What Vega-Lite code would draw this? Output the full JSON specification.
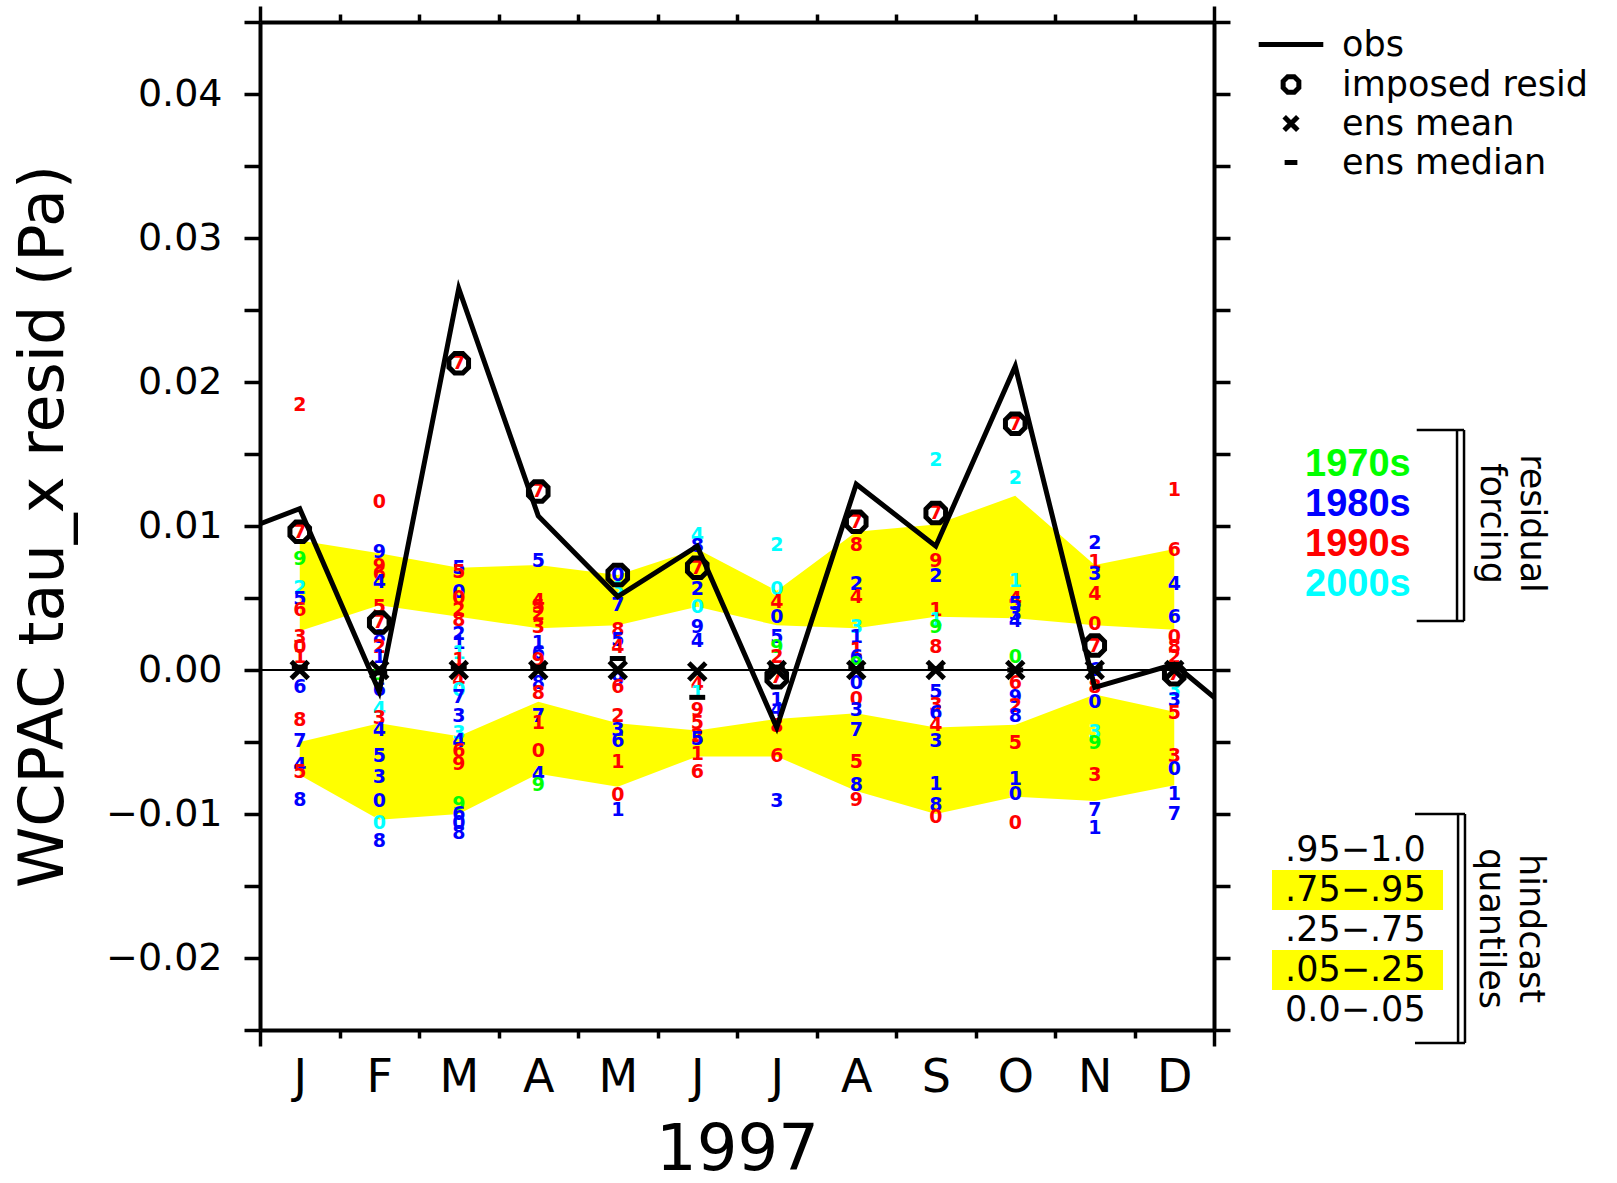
{
"$schema":"https://vega.github.io/schema/vega-lite/v6.json",
"width":954,"height":1008,
"autosize":{"type":"none"},
"padding":{"left":260,"top":22,"right":403,"bottom":153},
"background":"white",
"config":{"view":{"stroke":null},"axis":{"domainColor":"black","tickColor":"black","labelColor":"black","titleColor":"black","grid":false}},
"datasets":{
"bands":[
{"month":1,"band":".75−.95","lo":0.0027,"hi":0.0090},{"month":2,"band":".75−.95","lo":0.0045,"hi":0.0081},{"month":3,"band":".75−.95","lo":0.0037,"hi":0.0071},{"month":4,"band":".75−.95","lo":0.0029,"hi":0.0073},{"month":5,"band":".75−.95","lo":0.0031,"hi":0.0066},{"month":6,"band":".75−.95","lo":0.0044,"hi":0.0084},{"month":7,"band":".75−.95","lo":0.0031,"hi":0.0055},{"month":8,"band":".75−.95","lo":0.0029,"hi":0.0096},{"month":9,"band":".75−.95","lo":0.0037,"hi":0.0101},{"month":10,"band":".75−.95","lo":0.0036,"hi":0.0121},{"month":11,"band":".75−.95","lo":0.0031,"hi":0.0073},{"month":12,"band":".75−.95","lo":0.0028,"hi":0.0084},
{"month":1,"band":".05−.25","lo":-0.0073,"hi":-0.0050},{"month":2,"band":".05−.25","lo":-0.0104,"hi":-0.0037},{"month":3,"band":".05−.25","lo":-0.0100,"hi":-0.0046},{"month":4,"band":".05−.25","lo":-0.0072,"hi":-0.0022},{"month":5,"band":".05−.25","lo":-0.0081,"hi":-0.0037},{"month":6,"band":".05−.25","lo":-0.0060,"hi":-0.0042},{"month":7,"band":".05−.25","lo":-0.0060,"hi":-0.0034},{"month":8,"band":".05−.25","lo":-0.0084,"hi":-0.0030},{"month":9,"band":".05−.25","lo":-0.0100,"hi":-0.0040},{"month":10,"band":".05−.25","lo":-0.0088,"hi":-0.0038},{"month":11,"band":".05−.25","lo":-0.0091,"hi":-0.0017},{"month":12,"band":".05−.25","lo":-0.0080,"hi":-0.0029}],
"obs":[
{"month":0,"value":0.0091},{"month":1,"value":0.0112},{"month":2,"value":-0.0015},{"month":3,"value":0.0265},{"month":4,"value":0.0107},{"month":5,"value":0.0051},{"month":6,"value":0.0086},{"month":7,"value":-0.0040},{"month":8,"value":0.0129},{"month":9,"value":0.0086},{"month":10,"value":0.0211},{"month":11,"value":-0.0012},{"month":12,"value":0.0004},{"month":13,"value":-0.0042}],
"markers":[
{"month":1,"series":"imposed resid","value":0.0096},{"month":2,"series":"imposed resid","value":0.0033},{"month":3,"series":"imposed resid","value":0.0213},{"month":4,"series":"imposed resid","value":0.0124},{"month":5,"series":"imposed resid","value":0.0066},{"month":6,"series":"imposed resid","value":0.0071},{"month":7,"series":"imposed resid","value":-0.0005},{"month":8,"series":"imposed resid","value":0.0103},{"month":9,"series":"imposed resid","value":0.0109},{"month":10,"series":"imposed resid","value":0.0171},{"month":11,"series":"imposed resid","value":0.0017},{"month":12,"series":"imposed resid","value":-0.0003},
{"month":1,"series":"ens mean","value":0.0},{"month":2,"series":"ens mean","value":0.0},{"month":3,"series":"ens mean","value":0.0},{"month":4,"series":"ens mean","value":0.0},{"month":5,"series":"ens mean","value":0.0},{"month":6,"series":"ens mean","value":-0.0001},{"month":7,"series":"ens mean","value":0.0},{"month":8,"series":"ens mean","value":0.0},{"month":9,"series":"ens mean","value":0.0},{"month":10,"series":"ens mean","value":0.0},{"month":11,"series":"ens mean","value":0.0},{"month":12,"series":"ens mean","value":0.0},
{"month":1,"series":"ens median","value":0.0002},{"month":2,"series":"ens median","value":-0.0002},{"month":3,"series":"ens median","value":0.0001},{"month":4,"series":"ens median","value":0.0002},{"month":5,"series":"ens median","value":0.0008},{"month":6,"series":"ens median","value":-0.0019},{"month":7,"series":"ens median","value":0.0002},{"month":8,"series":"ens median","value":0.0001},{"month":9,"series":"ens median","value":0.0001},{"month":10,"series":"ens median","value":0.0},{"month":11,"series":"ens median","value":0.0001},{"month":12,"series":"ens median","value":0.0002}],
"digits":[
{"month":1,"digit":"2","decade":"1990s","value":0.0184},{"month":1,"digit":"7","decade":"1990s","value":0.0096},{"month":1,"digit":"9","decade":"1970s","value":0.0077},{"month":1,"digit":"2","decade":"2000s","value":0.0057},{"month":1,"digit":"5","decade":"1980s","value":0.0049},{"month":1,"digit":"6","decade":"1990s","value":0.0042},{"month":1,"digit":"3","decade":"1990s","value":0.0023},{"month":1,"digit":"0","decade":"1990s","value":0.0016},{"month":1,"digit":"1","decade":"1990s","value":0.0009},{"month":1,"digit":"6","decade":"1980s","value":-0.0012},{"month":1,"digit":"8","decade":"1990s","value":-0.0035},{"month":1,"digit":"7","decade":"1980s","value":-0.0049},{"month":1,"digit":"4","decade":"1980s","value":-0.0066},{"month":1,"digit":"5","decade":"1990s","value":-0.0071},{"month":1,"digit":"8","decade":"1980s","value":-0.0090},
{"month":2,"digit":"0","decade":"1990s","value":0.0117},{"month":2,"digit":"9","decade":"1980s","value":0.0082},{"month":2,"digit":"9","decade":"1990s","value":0.0072},{"month":2,"digit":"6","decade":"1990s","value":0.0067},{"month":2,"digit":"4","decade":"1980s","value":0.0061},{"month":2,"digit":"5","decade":"1990s","value":0.0044},{"month":2,"digit":"7","decade":"1990s","value":0.0033},{"month":2,"digit":"8","decade":"1980s","value":0.0023},{"month":2,"digit":"2","decade":"1990s","value":0.0016},{"month":2,"digit":"1","decade":"1980s","value":0.0009},{"month":2,"digit":"9","decade":"1970s","value":-0.0003},{"month":2,"digit":"6","decade":"1980s","value":-0.0014},{"month":2,"digit":"4","decade":"2000s","value":-0.0027},{"month":2,"digit":"3","decade":"1990s","value":-0.0033},{"month":2,"digit":"4","decade":"1980s","value":-0.0042},{"month":2,"digit":"5","decade":"1980s","value":-0.0060},{"month":2,"digit":"3","decade":"1980s","value":-0.0074},{"month":2,"digit":"0","decade":"1980s","value":-0.0091},{"month":2,"digit":"0","decade":"2000s","value":-0.0106},{"month":2,"digit":"8","decade":"1980s","value":-0.0119},
{"month":3,"digit":"7","decade":"1990s","value":0.0213},{"month":3,"digit":"5","decade":"1980s","value":0.0071},{"month":3,"digit":"5","decade":"1990s","value":0.0068},{"month":3,"digit":"0","decade":"1980s","value":0.0054},{"month":3,"digit":"0","decade":"1990s","value":0.0050},{"month":3,"digit":"2","decade":"1990s","value":0.0042},{"month":3,"digit":"8","decade":"1990s","value":0.0035},{"month":3,"digit":"2","decade":"1980s","value":0.0025},{"month":3,"digit":"1","decade":"1980s","value":0.0019},{"month":3,"digit":"1","decade":"2000s","value":0.0012},{"month":3,"digit":"1","decade":"1990s","value":0.0007},{"month":3,"digit":"4","decade":"1990s","value":-0.0007},{"month":3,"digit":"0","decade":"2000s","value":-0.0014},{"month":3,"digit":"7","decade":"1980s","value":-0.0019},{"month":3,"digit":"3","decade":"1980s","value":-0.0032},{"month":3,"digit":"3","decade":"2000s","value":-0.0044},{"month":3,"digit":"4","decade":"1980s","value":-0.0049},{"month":3,"digit":"6","decade":"1990s","value":-0.0056},{"month":3,"digit":"9","decade":"1990s","value":-0.0065},{"month":3,"digit":"9","decade":"1970s","value":-0.0093},{"month":3,"digit":"6","decade":"1980s","value":-0.0100},{"month":3,"digit":"0","decade":"1980s","value":-0.0106},{"month":3,"digit":"8","decade":"1980s","value":-0.0113},
{"month":4,"digit":"7","decade":"1990s","value":0.0124},{"month":4,"digit":"5","decade":"1980s","value":0.0076},{"month":4,"digit":"4","decade":"1990s","value":0.0048},{"month":4,"digit":"5","decade":"1990s","value":0.0044},{"month":4,"digit":"2","decade":"1990s","value":0.0039},{"month":4,"digit":"3","decade":"1990s","value":0.0030},{"month":4,"digit":"1","decade":"1980s","value":0.0019},{"month":4,"digit":"6","decade":"1980s","value":0.0012},{"month":4,"digit":"9","decade":"1990s","value":0.0007},{"month":4,"digit":"8","decade":"1980s","value":-0.0009},{"month":4,"digit":"8","decade":"1990s","value":-0.0016},{"month":4,"digit":"7","decade":"1980s","value":-0.0032},{"month":4,"digit":"1","decade":"1990s","value":-0.0037},{"month":4,"digit":"0","decade":"1990s","value":-0.0056},{"month":4,"digit":"4","decade":"1980s","value":-0.0072},{"month":4,"digit":"9","decade":"1970s","value":-0.0080},
{"month":5,"digit":"0","decade":"1980s","value":0.0066},{"month":5,"digit":"3","decade":"2000s","value":0.0056},{"month":5,"digit":"7","decade":"1980s","value":0.0045},{"month":5,"digit":"8","decade":"1990s","value":0.0028},{"month":5,"digit":"5","decade":"1980s","value":0.0021},{"month":5,"digit":"4","decade":"1990s","value":0.0016},{"month":5,"digit":"9","decade":"1980s","value":-0.0007},{"month":5,"digit":"6","decade":"1990s","value":-0.0012},{"month":5,"digit":"2","decade":"1990s","value":-0.0032},{"month":5,"digit":"3","decade":"1980s","value":-0.0042},{"month":5,"digit":"6","decade":"1980s","value":-0.0049},{"month":5,"digit":"1","decade":"1990s","value":-0.0064},{"month":5,"digit":"0","decade":"1990s","value":-0.0087},{"month":5,"digit":"1","decade":"1980s","value":-0.0097},
{"month":6,"digit":"4","decade":"2000s","value":0.0094},{"month":6,"digit":"8","decade":"1980s","value":0.0086},{"month":6,"digit":"7","decade":"1990s","value":0.0071},{"month":6,"digit":"2","decade":"1980s","value":0.0056},{"month":6,"digit":"0","decade":"2000s","value":0.0044},{"month":6,"digit":"9","decade":"1980s","value":0.0030},{"month":6,"digit":"4","decade":"1980s","value":0.0020},{"month":6,"digit":"4","decade":"1990s","value":-0.0010},{"month":6,"digit":"1","decade":"2000s","value":-0.0016},{"month":6,"digit":"9","decade":"1990s","value":-0.0028},{"month":6,"digit":"5","decade":"1990s","value":-0.0037},{"month":6,"digit":"2","decade":"1990s","value":-0.0046},{"month":6,"digit":"5","decade":"1980s","value":-0.0048},{"month":6,"digit":"1","decade":"1990s","value":-0.0058},{"month":6,"digit":"6","decade":"1990s","value":-0.0071},
{"month":7,"digit":"2","decade":"2000s","value":0.0087},{"month":7,"digit":"0","decade":"2000s","value":0.0056},{"month":7,"digit":"4","decade":"1990s","value":0.0047},{"month":7,"digit":"0","decade":"1980s","value":0.0037},{"month":7,"digit":"5","decade":"1980s","value":0.0023},{"month":7,"digit":"9","decade":"1970s","value":0.0016},{"month":7,"digit":"2","decade":"1990s","value":0.0009},{"month":7,"digit":"7","decade":"1990s","value":-0.0005},{"month":7,"digit":"1","decade":"1980s","value":-0.0021},{"month":7,"digit":"4","decade":"1980s","value":-0.0028},{"month":7,"digit":"8","decade":"1990s","value":-0.0039},{"month":7,"digit":"6","decade":"1990s","value":-0.0060},{"month":7,"digit":"3","decade":"1980s","value":-0.0091},
{"month":8,"digit":"7","decade":"1990s","value":0.0103},{"month":8,"digit":"8","decade":"1990s","value":0.0087},{"month":8,"digit":"2","decade":"1980s","value":0.0060},{"month":8,"digit":"4","decade":"1990s","value":0.0051},{"month":8,"digit":"3","decade":"2000s","value":0.0030},{"month":8,"digit":"1","decade":"1980s","value":0.0023},{"month":8,"digit":"1","decade":"1990s","value":0.0014},{"month":8,"digit":"6","decade":"1980s","value":0.0009},{"month":8,"digit":"9","decade":"1970s","value":0.0004},{"month":8,"digit":"0","decade":"1980s","value":-0.0009},{"month":8,"digit":"0","decade":"1990s","value":-0.0020},{"month":8,"digit":"3","decade":"1980s","value":-0.0028},{"month":8,"digit":"7","decade":"1980s","value":-0.0042},{"month":8,"digit":"5","decade":"1990s","value":-0.0064},{"month":8,"digit":"8","decade":"1980s","value":-0.0080},{"month":8,"digit":"9","decade":"1990s","value":-0.0090},
{"month":9,"digit":"2","decade":"2000s","value":0.0146},{"month":9,"digit":"7","decade":"1990s","value":0.0109},{"month":9,"digit":"9","decade":"1990s","value":0.0076},{"month":9,"digit":"2","decade":"1980s","value":0.0065},{"month":9,"digit":"1","decade":"1990s","value":0.0042},{"month":9,"digit":"1","decade":"2000s","value":0.0035},{"month":9,"digit":"9","decade":"1970s","value":0.0030},{"month":9,"digit":"8","decade":"1990s","value":0.0016},{"month":9,"digit":"5","decade":"1980s","value":-0.0015},{"month":9,"digit":"3","decade":"1990s","value":-0.0024},{"month":9,"digit":"6","decade":"1980s","value":-0.0030},{"month":9,"digit":"4","decade":"1990s","value":-0.0038},{"month":9,"digit":"3","decade":"1980s","value":-0.0049},{"month":9,"digit":"1","decade":"1980s","value":-0.0079},{"month":9,"digit":"8","decade":"1980s","value":-0.0094},{"month":9,"digit":"0","decade":"1990s","value":-0.0102},
{"month":10,"digit":"7","decade":"1990s","value":0.0171},{"month":10,"digit":"2","decade":"2000s","value":0.0133},{"month":10,"digit":"1","decade":"2000s","value":0.0062},{"month":10,"digit":"4","decade":"1990s","value":0.0049},{"month":10,"digit":"5","decade":"1980s","value":0.0046},{"month":10,"digit":"3","decade":"1980s","value":0.0039},{"month":10,"digit":"4","decade":"1980s","value":0.0034},{"month":10,"digit":"0","decade":"1970s","value":0.0009},{"month":10,"digit":"6","decade":"1990s","value":-0.0009},{"month":10,"digit":"9","decade":"1980s","value":-0.0019},{"month":10,"digit":"2","decade":"1990s","value":-0.0025},{"month":10,"digit":"8","decade":"1980s","value":-0.0032},{"month":10,"digit":"5","decade":"1990s","value":-0.0051},{"month":10,"digit":"1","decade":"1980s","value":-0.0076},{"month":10,"digit":"0","decade":"1980s","value":-0.0086},{"month":10,"digit":"0","decade":"1990s","value":-0.0106},
{"month":11,"digit":"2","decade":"1980s","value":0.0088},{"month":11,"digit":"1","decade":"1990s","value":0.0075},{"month":11,"digit":"3","decade":"1980s","value":0.0067},{"month":11,"digit":"4","decade":"1990s","value":0.0053},{"month":11,"digit":"0","decade":"1990s","value":0.0032},{"month":11,"digit":"7","decade":"1990s","value":0.0017},{"month":11,"digit":"6","decade":"1980s","value":0.0000},{"month":11,"digit":"8","decade":"1990s","value":-0.0012},{"month":11,"digit":"0","decade":"1980s","value":-0.0022},{"month":11,"digit":"3","decade":"2000s","value":-0.0043},{"month":11,"digit":"9","decade":"1970s","value":-0.0051},{"month":11,"digit":"3","decade":"1990s","value":-0.0073},{"month":11,"digit":"7","decade":"1980s","value":-0.0097},{"month":11,"digit":"1","decade":"1980s","value":-0.0110},
{"month":12,"digit":"1","decade":"1990s","value":0.0125},{"month":12,"digit":"6","decade":"1990s","value":0.0083},{"month":12,"digit":"4","decade":"1980s","value":0.0060},{"month":12,"digit":"6","decade":"1980s","value":0.0037},{"month":12,"digit":"0","decade":"1990s","value":0.0023},{"month":12,"digit":"8","decade":"1990s","value":0.0016},{"month":12,"digit":"2","decade":"1990s","value":0.0009},{"month":12,"digit":"7","decade":"1990s","value":-0.0003},{"month":12,"digit":"3","decade":"2000s","value":-0.0014},{"month":12,"digit":"3","decade":"1980s","value":-0.0021},{"month":12,"digit":"5","decade":"1990s","value":-0.0030},{"month":12,"digit":"3","decade":"1990s","value":-0.0060},{"month":12,"digit":"0","decade":"1980s","value":-0.0069},{"month":12,"digit":"1","decade":"1980s","value":-0.0086},{"month":12,"digit":"7","decade":"1980s","value":-0.0100}]
},
"resolve":{"axis":{"x":"independent","y":"independent"}},
"layer":[
{"data":{"name":"bands"},"mark":{"type":"area","opacity":1,"interpolate":"linear"},
 "encoding":{
  "x":{"field":"month","type":"quantitative","scale":{"domain":[0.5,12.5],"nice":false,"zero":false},
   "axis":{"orient":"bottom","values":[0.5,1,1.5,2,2.5,3,3.5,4,4.5,5,5.5,6,6.5,7,7.5,8,8.5,9,9.5,10,10.5,11,11.5,12,12.5],
    "labelExpr":"datum.value % 1 == 0 ? ['J','F','M','A','M','J','J','A','S','O','N','D'][datum.value-1] : ''",
    "tickOpacity":{"condition":{"test":"datum.value % 1 == 0","value":0},"value":1},
    "tickSize":{"condition":{"test":"datum.value == 0.5 || datum.value == 12.5","value":16},"value":8},
    "tickWidth":3.5,"domainWidth":4,"labelFont":"DejaVu Sans","labelFontSize":46,"labelPadding":17,"labelOverlap":false,"labelFlush":false,"labelBound":false,
    "title":"1997","titleFont":"DejaVu Sans","titleFontSize":64,"titleFontWeight":"normal","titlePadding":10}},
  "y":{"field":"hi","type":"quantitative","scale":{"domain":[-0.025,0.045],"nice":false,"zero":false},
   "axis":{"orient":"left","values":[-0.025,-0.02,-0.015,-0.01,-0.005,0,0.005,0.01,0.015,0.02,0.025,0.03,0.035,0.04,0.045],
    "labelExpr":"abs(round(datum.value*1000)) % 10 == 0 ? format(datum.value, '.2f') : ''",
    "tickSize":16,"tickWidth":3.5,"domainWidth":4,"labelFont":"DejaVu Sans","labelFontSize":38,"labelPadding":22,"labelOverlap":false,"labelFlush":false,"labelBound":false,
    "title":"WCPAC tau_x resid (Pa)","titleFont":"DejaVu Sans","titleFontSize":62,"titleFontWeight":"normal","titlePadding":30}},
  "y2":{"field":"lo"},
  "fill":{"field":"band","type":"nominal","scale":{"domain":[".95−1.0",".75−.95",".25−.75",".05−.25","0.0−.05"],"range":["white","#ffff00","white","#ffff00","white"]},
   "legend":{"orient":"none","legendX":1077.5,"legendY":808,"padding":0,"direction":"vertical","title":null,
    "symbolType":"M-4.275,-1H4.275V1H-4.275Z","symbolSize":1600,"symbolStrokeWidth":0,"symbolOpacity":1,
    "labelFont":"DejaVu Sans","labelFontSize":35,"labelColor":"black","labelOffset":-92.5,"labelLimit":0,"rowPadding":0}}
 }},
{"data":{"values":[{}]},"mark":{"type":"rule","color":"black","strokeWidth":2},
 "encoding":{"y":{"datum":0,"type":"quantitative","scale":{"domain":[-0.025,0.045],"nice":false,"zero":false},"axis":null}}},
{"data":{"name":"digits"},"mark":{"type":"text","font":"DejaVu Sans","fontWeight":"bold","fontSize":19,"baseline":"middle","align":"center"},
 "encoding":{
  "x":{"field":"month","type":"quantitative","scale":{"domain":[0.5,12.5],"nice":false,"zero":false},"axis":null},
  "y":{"field":"value","type":"quantitative","scale":{"domain":[-0.025,0.045],"nice":false,"zero":false},"axis":null},
  "text":{"field":"digit","type":"nominal"},
  "color":{"field":"decade","type":"nominal","scale":{"domain":["1970s","1980s","1990s","2000s"],"range":["#00ff00","#0000ff","#ff0000","#00ffff"]},
   "legend":{"orient":"none","legendX":1007,"legendY":424,"padding":0,"direction":"vertical","title":null,
    "symbolOpacity":0,"symbolSize":1,"symbolStrokeWidth":0,"labelOffset":0,"labelFont":"Liberation Sans","labelFontWeight":"bold","labelFontSize":38,"rowPadding":2,"labelLimit":0,
    "encode":{"labels":{"update":{"fill":{"scale":"color","field":"value"}}}}}}
 }},
{"data":{"name":"obs"},"mark":{"type":"line","clip":true,"color":"black","strokeWidth":5,"strokeJoin":"miter","strokeMiterLimit":10},
 "encoding":{
  "x":{"field":"month","type":"quantitative","scale":{"domain":[0.5,12.5],"nice":false,"zero":false},
   "axis":{"orient":"top","values":[0.5,1.5,2.5,3.5,4.5,5.5,6.5,7.5,8.5,9.5,10.5,11.5,12.5],"labels":false,"title":null,
    "tickSize":{"condition":{"test":"datum.value == 0.5 || datum.value == 12.5","value":16},"value":8},"tickWidth":3.5,"domainWidth":4}},
  "y":{"field":"value","type":"quantitative","scale":{"domain":[-0.025,0.045],"nice":false,"zero":false},
   "axis":{"orient":"right","values":[-0.025,-0.02,-0.015,-0.01,-0.005,0,0.005,0.01,0.015,0.02,0.025,0.03,0.035,0.04,0.045],"labels":false,"title":null,"tickSize":16,"tickWidth":3.5,"domainWidth":4}}
 }},
{"data":{"name":"markers"},"mark":{"type":"point","filled":false,"color":"black","strokeWidth":5,"size":450,"opacity":1},
 "encoding":{
  "x":{"field":"month","type":"quantitative","scale":{"domain":[0.5,12.5],"nice":false,"zero":false},"axis":null},
  "y":{"field":"value","type":"quantitative","scale":{"domain":[-0.025,0.045],"nice":false,"zero":false},"axis":null},
  "shape":{"field":"series","type":"nominal","scale":{"domain":["obs","imposed resid","ens mean","ens median"],
    "range":["M-3.8,0H3.8","M0.383,-0.924L0.924,-0.383L0.924,0.383L0.383,0.924L-0.383,0.924L-0.924,0.383L-0.924,-0.383L-0.383,-0.924Z","M-0.8,-0.8L0.8,0.8M-0.8,0.8L0.8,-0.8","M-0.75,0H0.75"]},
   "legend":{"orient":"none","legendX":1013.5,"legendY":5,"padding":0,"direction":"vertical","title":null,
    "labelFont":"DejaVu Sans","labelFontSize":35,"labelColor":"black","labelOffset":33.5,"labelLimit":0,
    "symbolSize":289,"symbolStrokeWidth":5,"symbolStrokeColor":"black","symbolFillColor":"transparent","rowPadding":3}}
 }},
{"data":{"values":[{}]},"mark":{"type":"rule","color":"black","strokeWidth":2.5},"encoding":{"x":{"datum":15.05,"type":"quantitative","scale":{"domain":[0.5,12.5],"nice":false,"zero":false},"axis":null},"x2":{"datum":15.645},"y":{"datum":0.01667,"type":"quantitative","scale":{"domain":[-0.025,0.045],"nice":false,"zero":false},"axis":null}}},
{"data":{"values":[{}]},"mark":{"type":"rule","color":"black","strokeWidth":2.5},"encoding":{"x":{"datum":15.05,"type":"quantitative","scale":{"domain":[0.5,12.5],"nice":false,"zero":false},"axis":null},"x2":{"datum":15.645},"y":{"datum":0.0034,"type":"quantitative","scale":{"domain":[-0.025,0.045],"nice":false,"zero":false},"axis":null}}},
{"data":{"values":[{}]},"mark":{"type":"rule","color":"black","strokeWidth":2.5},"encoding":{"x":{"datum":15.557,"type":"quantitative","scale":{"domain":[0.5,12.5],"nice":false,"zero":false},"axis":null},"y":{"datum":0.01667,"type":"quantitative","scale":{"domain":[-0.025,0.045],"nice":false,"zero":false},"axis":null},"y2":{"datum":0.0034}}},
{"data":{"values":[{}]},"mark":{"type":"rule","color":"black","strokeWidth":2.5},"encoding":{"x":{"datum":15.645,"type":"quantitative","scale":{"domain":[0.5,12.5],"nice":false,"zero":false},"axis":null},"y":{"datum":0.01667,"type":"quantitative","scale":{"domain":[-0.025,0.045],"nice":false,"zero":false},
   "axis":{"orient":"right","domain":false,"ticks":false,"labels":false,"grid":false,"values":[],"title":["residual","forcing"],"titleAngle":90,"titleX":317,"titleY":501,"titleAlign":"center","titleBaseline":"middle","titleFont":"DejaVu Sans","titleFontSize":35,"titleFontWeight":"normal","titleLineHeight":40,"titleColor":"black"}},"y2":{"datum":0.0034}}},
{"data":{"values":[{}]},"mark":{"type":"rule","color":"black","strokeWidth":2.5},"encoding":{"x":{"datum":15.028,"type":"quantitative","scale":{"domain":[0.5,12.5],"nice":false,"zero":false},"axis":null},"x2":{"datum":15.657},"y":{"datum":-0.0100,"type":"quantitative","scale":{"domain":[-0.025,0.045],"nice":false,"zero":false},"axis":null}}},
{"data":{"values":[{}]},"mark":{"type":"rule","color":"black","strokeWidth":2.5},"encoding":{"x":{"datum":15.028,"type":"quantitative","scale":{"domain":[0.5,12.5],"nice":false,"zero":false},"axis":null},"x2":{"datum":15.657},"y":{"datum":-0.0259,"type":"quantitative","scale":{"domain":[-0.025,0.045],"nice":false,"zero":false},"axis":null}}},
{"data":{"values":[{}]},"mark":{"type":"rule","color":"black","strokeWidth":2.5},"encoding":{"x":{"datum":15.57,"type":"quantitative","scale":{"domain":[0.5,12.5],"nice":false,"zero":false},"axis":null},"y":{"datum":-0.0100,"type":"quantitative","scale":{"domain":[-0.025,0.045],"nice":false,"zero":false},"axis":null},"y2":{"datum":-0.0259}}},
{"data":{"values":[{}]},"mark":{"type":"rule","color":"black","strokeWidth":2.5},"encoding":{"x":{"datum":15.657,"type":"quantitative","scale":{"domain":[0.5,12.5],"nice":false,"zero":false},"axis":null},"y":{"datum":-0.0100,"type":"quantitative","scale":{"domain":[-0.025,0.045],"nice":false,"zero":false},
   "axis":{"orient":"right","domain":false,"ticks":false,"labels":false,"grid":false,"values":[],"title":["hindcast","quantiles"],"titleAngle":90,"titleX":316,"titleY":906,"titleAlign":"center","titleBaseline":"middle","titleFont":"DejaVu Sans","titleFontSize":35,"titleFontWeight":"normal","titleLineHeight":40,"titleColor":"black"}},"y2":{"datum":-0.0259}}}
]
}
